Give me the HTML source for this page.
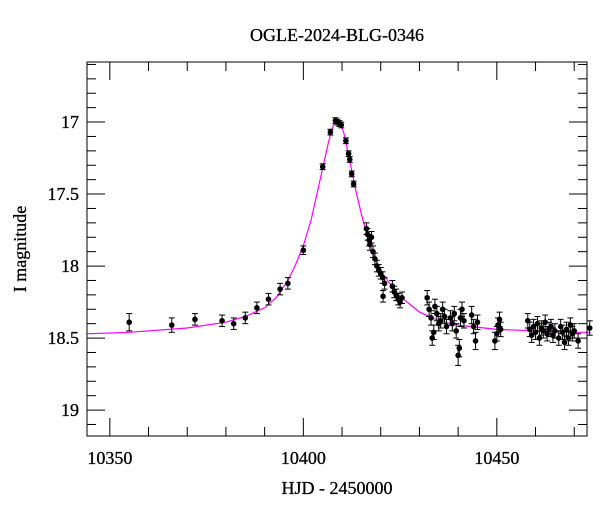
<!DOCTYPE html>
<html><head><meta charset="utf-8"><style>
body{margin:0;background:#fff}
svg text{font-family:"Liberation Serif",serif;fill:#000}
</style></head><body>
<svg id="chart" width="600" height="512" xmlns="http://www.w3.org/2000/svg">
<text x="337" y="41" font-size="18" text-anchor="middle" stroke="#000" stroke-width="0.3">OGLE-2024-BLG-0346</text>
<text x="337" y="494" font-size="18" text-anchor="middle" stroke="#000" stroke-width="0.3">HJD - 2450000</text>
<text x="26" y="249" font-size="18" text-anchor="middle" stroke="#000" stroke-width="0.3" transform="rotate(-90 26 249)">I magnitude</text>
<g id="ticks"></g><g id="model"></g><g id="pts"></g><g id="labels"></g>
<rect x="87" y="62" width="500" height="374" fill="none" stroke="#000" stroke-width="1"/>
</svg>
<script>
const xTicks=[10350,10400,10450];
const yTicks=[17,17.5,18,18.5,19];
const xTickLabels=["10350","10400","10450"];
const yTickLabels=["17","17.5","18","18.5","19"];
const modelT=[10344,10355,10370,10380,10385,10390,10393,10396,10398,10400,10402,10403.5,10405,10406.5,10407.5,10408.5,10409.5,10410.5,10412,10413.5,10415,10416.5,10418,10420,10422,10425,10430,10435,10440,10450,10460,10470,10474];
const modelM=[18.47,18.46,18.43,18.39,18.35,18.29,18.22,18.1,17.99,17.86,17.68,17.5,17.32,17.14,17.04,16.98,17.0,17.08,17.27,17.47,17.64,17.79,17.91,18.03,18.11,18.21,18.32,18.38,18.41,18.44,18.45,18.46,18.46];
const obsT=[10355,10366,10372,10379,10382,10385,10388,10391,10394,10396,10400,10405,10407,10408.3,10408.8,10409.3,10409.8,10411,10411.7,10412,10412.5,10413,10416.3,10416.6,10417,10417.2,10417.6,10418,10418.5,10419,10419.5,10420,10420.5,10420.6,10421,10423,10423.5,10424,10424.5,10425,10425.5,10432,10432.5,10433,10433.3,10433.7,10434,10434.5,10435,10435.5,10436,10436.5,10437,10438,10438.5,10439,10439.5,10440,10440.3,10440.6,10441,10441.5,10443.5,10444,10444.5,10445,10449.5,10450,10450.3,10450.7,10451,10458,10458.5,10459,10459.5,10460,10460.5,10461,10461.5,10462,10462.5,10463,10463.5,10464,10464.5,10465,10466,10466.5,10467,10467.5,10468,10468.5,10469,10469.5,10470,10471,10474];
const obsM=[18.39,18.41,18.37,18.38,18.40,18.36,18.29,18.23,18.16,18.12,17.89,17.31,17.07,16.99,17.0,17.01,17.02,17.13,17.22,17.26,17.36,17.43,17.74,17.78,17.82,17.85,17.8,17.9,17.95,18.0,18.03,18.05,18.08,18.21,18.12,18.14,18.18,18.2,18.23,18.25,18.22,18.22,18.3,18.36,18.5,18.46,18.28,18.33,18.4,18.38,18.3,18.35,18.42,18.36,18.4,18.33,18.45,18.62,18.57,18.36,18.3,18.38,18.34,18.42,18.52,18.39,18.52,18.47,18.41,18.37,18.44,18.38,18.44,18.48,18.42,18.46,18.4,18.5,18.43,18.45,18.39,18.47,18.44,18.42,18.48,18.45,18.5,18.42,18.46,18.53,18.44,18.5,18.41,18.47,18.45,18.52,18.43,18.36];
const obsE=[0.06,0.05,0.04,0.04,0.04,0.04,0.04,0.04,0.04,0.04,0.03,0.02,0.02,0.02,0.02,0.02,0.02,0.02,0.02,0.02,0.02,0.02,0.04,0.04,0.04,0.04,0.04,0.04,0.04,0.04,0.04,0.04,0.04,0.04,0.04,0.04,0.04,0.04,0.04,0.04,0.04,0.05,0.05,0.05,0.05,0.05,0.05,0.05,0.05,0.05,0.05,0.05,0.05,0.05,0.05,0.05,0.05,0.07,0.06,0.06,0.05,0.05,0.06,0.05,0.06,0.05,0.06,0.05,0.05,0.05,0.05,0.05,0.05,0.05,0.05,0.05,0.05,0.05,0.05,0.05,0.05,0.05,0.05,0.05,0.05,0.05,0.05,0.05,0.05,0.05,0.05,0.05,0.05,0.05,0.05,0.05,0.05,0.05];
const NS="http://www.w3.org/2000/svg";
const X0=87,X1=587,Y0=62,Y1=436,TMIN=10344.1,TMAX=10473.3,MMIN=16.583,MMAX=19.18;
function sx(t){return X0+(t-TMIN)/(TMAX-TMIN)*(X1-X0);}
function sy(m){return Y0+(m-MMIN)/(MMAX-MMIN)*(Y1-Y0);}
function mk(tag,a,p){const e=document.createElementNS(NS,tag);for(const k in a)e.setAttribute(k,a[k]);document.getElementById(p).appendChild(e);return e;}
for(let t=10350;t<=10470;t+=10){const x=sx(t),L=(t%50===0)?18:9;
 const a=mk('line',{x1:x,x2:x,y1:Y1,y2:Y1-L,stroke:'#000'},'ticks');
 
 
 const b=mk('line',{x1:x,x2:x,y1:Y0,y2:Y0+L,stroke:'#000'},'ticks');
 
 }
for(let i=0;i<=26;i++){const m=16.6+i*0.1;if(m>MMAX)break;const y=sy(m);const maj=Math.abs(m*2-Math.round(m*2))<1e-6;const L=maj?18:9;
 const a=mk('line',{x1:X0,x2:X0+L,y1:y,y2:y,stroke:'#000'},'ticks');
 
 
 const b=mk('line',{x1:X1,x2:X1-L,y1:y,y2:y,stroke:'#000'},'ticks');
 
 }
xTicks.forEach((t,i)=>{const e=mk('text',{x:sx(t),y:464,'font-size':18,'text-anchor':'middle',stroke:'#000','stroke-width':0.3},'labels');e.textContent=xTickLabels[i];
 
 });
yTicks.forEach((m,i)=>{const e=mk('text',{x:79,y:sy(m)+6,'font-size':18,'text-anchor':'end',stroke:'#000','stroke-width':0.3},'labels');e.textContent=yTickLabels[i];
 
 });
const path=mk('path',{d:modelT.map((t,i)=>(i?'L':'M')+sx(t).toFixed(1)+','+sy(modelM[i]).toFixed(1)).join(''),fill:'none',stroke:'#ff00ff','stroke-width':1.2},'model');


obsT.forEach((t,i)=>{const x=sx(t),y=sy(obsM[i]),e=obsE[i];
 const g=document.createElementNS(NS,'g');document.getElementById('pts').appendChild(g);
 
 
 const y1=sy(obsM[i]-e),y2=sy(obsM[i]+e);
 g.innerHTML=`<line x1="${x}" x2="${x}" y1="${y1}" y2="${y2}" stroke="#000"/><line x1="${x-3}" x2="${x+3}" y1="${y1}" y2="${y1}" stroke="#000"/><line x1="${x-3}" x2="${x+3}" y1="${y2}" y2="${y2}" stroke="#000"/><circle cx="${x}" cy="${y}" r="2.8" fill="#000"/>`;});
</script>
</body></html>
